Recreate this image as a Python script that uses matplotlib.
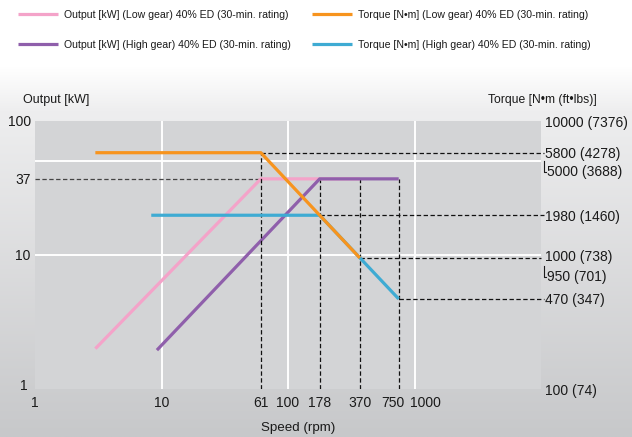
import numpy as np
import matplotlib
matplotlib.use("Agg")
import matplotlib.pyplot as plt
from matplotlib.lines import Line2D
from matplotlib.transforms import IdentityTransform, ScaledTranslation

# ---- data -------------------------------------------------------------
# speeds in rpm, output in kW, torque in N·m
out_low_speed = [3, 61, 370]
out_low_kw = [2.0, 37, 37]
out_high_speed = [9.2, 178, 750]
out_high_kw = [1.95, 37, 37]
tq_low_speed = [3, 61, 370]
tq_low_nm = [5800, 5800, 950]
tq_high_speed = [8.3, 178, 750]
tq_high_nm = [1980, 1980, 470]

rated_kw = 37
x_ticks = [1, 10, 61, 100, 178, 370, 750, 1000]
y_ticks = [1, 10, 37, 100]
tq_ticks = [100, 470, 1000, 1980, 5800, 10000]
tq_tick_labels = ["100 (74)", "470 (347)", "1000 (738)", "1980 (1460)",
                  "5800 (4278)", "10000 (7376)"]
# extra torque values listed just below a neighbouring label
tq_sub_labels = [(5800, "5000 (3688)"), (950, "950 (701)")]

labels = [
    "Output [kW] (Low gear) 40% ED (30-min. rating)",
    "Output [kW] (High gear) 40% ED (30-min. rating)",
    "Torque [N\u2022m] (Low gear) 40% ED (30-min. rating)",
    "Torque [N\u2022m] (High gear) 40% ED (30-min. rating)",
]
colors = {"pink": "#f4a3c9", "purple": "#8f5fab",
          "orange": "#f7941e", "blue": "#3eabd3"}

plt.rcParams["font.family"] = ["Liberation Sans", "DejaVu Sans"]
TXT = "#1a1a1a"

W, H = 632, 437
fig = plt.figure(figsize=(W / 100, H / 100), dpi=100, facecolor="white")

# soft vertical gradient behind the chart
bg = fig.add_axes([0, 0, 1, 1 - 66 / H], zorder=-10)
t = np.linspace(0, 1, 256)[:, None]
top_c = np.array([1.0, 1.0, 1.0])
mid_c = np.array([0xee, 0xee, 0xef]) / 255
bot_c = np.array([0xc7, 0xc8, 0xca]) / 255
img = np.where(t < 0.12, top_c + (mid_c - top_c) * (t / 0.12),
               mid_c + (bot_c - mid_c) * ((t - 0.12) / 0.88))
img = np.repeat(img[:, None, :], 2, axis=1)
bg.imshow(img, aspect="auto", extent=[0, 1, 0, 1], origin="upper")
bg.set_axis_off()

# ---- main axes --------------------------------------------------------
left, right, top, bottom = 35, 541, 121, 389
ax = fig.add_axes([left / W, 1 - bottom / H, (right - left) / W, (bottom - top) / H])
ax.set_facecolor("#d3d4d6")
ax.set_xscale("log")
ax.set_yscale("log")
ax.set_xlim(1, 10000)
ax.set_ylim(1, 100)
for s in ax.spines.values():
    s.set_visible(False)

ax2 = ax.twinx()
ax2.set_yscale("log")
ax2.set_ylim(100, 10000)
for s in ax2.spines.values():
    s.set_visible(False)

# white grid
for gx in [10, 100, 1000]:
    ax.axvline(gx, color="white", lw=1.4, zorder=1)
ax.axhline(10, color="white", lw=1.4, zorder=1)
ax2.axhline(5000, color="white", lw=1.4, zorder=1)

# dashed guide lines
dash = dict(color="#111111", lw=0.9, ls=(0, (3.5, 2)), zorder=2)
ax.plot([1, out_low_speed[1]], [rated_kw, rated_kw], color="#444444", lw=0.9,
        ls=(0, (3.5, 2)), zorder=2)
ax2.plot([tq_low_speed[1]] * 2, [100, tq_low_nm[1]], **dash)
ax2.plot([tq_low_speed[1], 10500], [tq_low_nm[1]] * 2, clip_on=False, **dash)
ax.plot([out_high_speed[1]] * 2, [1, rated_kw], **dash)
ax2.plot([tq_high_speed[1], 10500], [tq_high_nm[1]] * 2, clip_on=False, **dash)
ax.plot([out_low_speed[2]] * 2, [1, rated_kw], **dash)
ax2.plot([tq_low_speed[2], 10000], [tq_low_nm[2]] * 2, clip_on=False, **dash)
ax.plot([out_high_speed[2]] * 2, [1, rated_kw], **dash)
ax2.plot([tq_high_speed[2], 10500], [tq_high_nm[2]] * 2, clip_on=False, **dash)

# curves
lw = 2.3
l_pink, = ax.plot(out_low_speed, out_low_kw, color=colors["pink"], lw=lw, zorder=3,
                  solid_capstyle="butt")
l_purple, = ax.plot(out_high_speed, out_high_kw, color=colors["purple"], lw=lw, zorder=4,
                    solid_capstyle="butt")
l_orange, = ax2.plot(tq_low_speed, tq_low_nm, color=colors["orange"], lw=lw, zorder=5,
                     solid_capstyle="butt")
l_blue, = ax2.plot(tq_high_speed, tq_high_nm, color=colors["blue"], lw=lw, zorder=4,
                   solid_capstyle="butt")

# ticks
ax.set_xticks(x_ticks)
ax.set_xticklabels([str(v) for v in x_ticks])
ax.xaxis.set_minor_locator(matplotlib.ticker.NullLocator())
ax.set_yticks(y_ticks)
ax.set_yticklabels([str(v) for v in y_ticks])
ax.yaxis.set_minor_locator(matplotlib.ticker.NullLocator())
ax.tick_params(axis="both", length=0, labelsize=10, colors=TXT)
ax.tick_params(axis="x", pad=5)
ax.tick_params(axis="y", pad=3)
ax2.set_yticks(tq_ticks)
ax2.set_yticklabels(tq_tick_labels)
ax2.yaxis.set_minor_locator(matplotlib.ticker.NullLocator())
ax2.tick_params(axis="y", length=0, labelsize=10, pad=3, colors=TXT)

# nudge crowded labels (offsets in points)
def nudge(lab, dx, dy):
    lab.set_transform(lab.get_transform() + ScaledTranslation(dx / 72, dy / 72, fig.dpi_scale_trans))

for lab in ax.get_xticklabels():
    if lab.get_text() == "750":
        nudge(lab, -4, 0)
    elif lab.get_text() == "1000":
        nudge(lab, 8, 0)
for lab in ax.get_yticklabels():
    if lab.get_text() == "1":
        nudge(lab, -2, 3)

# secondary right-hand values with small brackets (pixel offsets)
for base, text in tq_sub_labels:
    px, py = ax2.transData.transform((10000, base))
    fig.add_artist(Line2D([px + 2.5, px + 2.5, px + 5], [py - 8, py - 19, py - 19],
                          transform=IdentityTransform(), color=TXT, lw=0.8))
    fig.text((px + 6) / W, (py - 19) / H, text, ha="left", va="center",
             fontsize=10, color=TXT)

# axis titles
fig.text(23 / W, 1 - 100 / H, "Output [kW]", ha="left", va="center",
         fontsize=9, color=TXT)
fig.text(597 / W, 1 - 100 / H, "Torque [N\u2022m (ft\u2022lbs)]", ha="right",
         va="center", fontsize=8.7, color=TXT)
fig.text(298 / W, 1 - 428 / H, "Speed (rpm)", ha="center", va="center",
         fontsize=9.6, color=TXT)

# legend: two columns placed side by side
leg_kw = dict(loc="upper left", frameon=False, borderpad=0, borderaxespad=0,
              handlelength=3.8, handletextpad=0.55, labelspacing=1.85,
              prop={"size": 7.6})
for lines, labs, x0 in [([l_pink, l_purple], labels[:2], 18),
                        ([l_orange, l_blue], labels[2:], 312)]:
    lg = fig.legend(lines, labs, bbox_to_anchor=(x0 / W, 1 - 10 / H), **leg_kw)
    for txt in lg.get_texts():
        txt.set_color(TXT)

fig.savefig("out.png", dpi=100, facecolor=fig.get_facecolor())
